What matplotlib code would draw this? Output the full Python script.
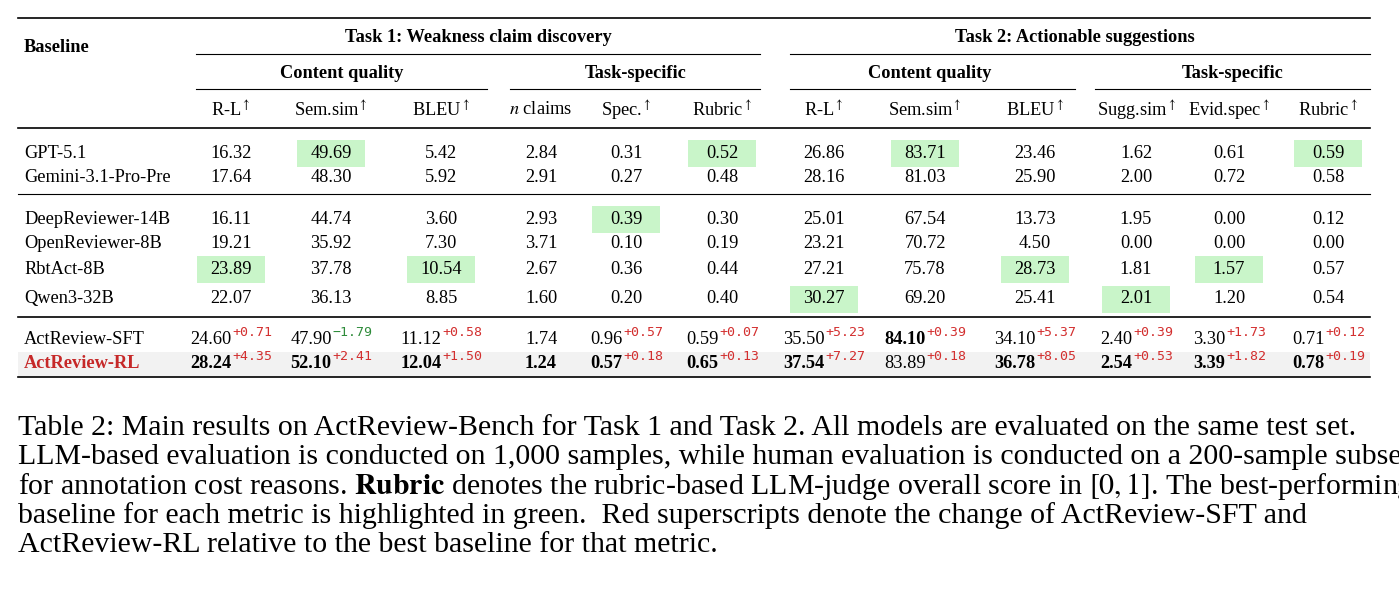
import matplotlib.pyplot as plt
from matplotlib.patches import Rectangle

plt.rcParams["mathtext.fontset"] = "stix"
W, H = 1399, 606
fig = plt.figure(figsize=(W / 100, H / 100), dpi=100)
SERIF = "Liberation Serif"
MONO = "DejaVu Sans Mono"

# data
models = ["GPT-5.1", "Gemini-3.1-Pro-Pre", "DeepReviewer-14B", "OpenReviewer-8B",
          "RbtAct-8B", "Qwen3-32B", "ActReview-SFT", "ActReview-RL"]
values = [
    ["16.32", "49.69", "5.42", "2.84", "0.31", "0.52", "26.86", "83.71", "23.46", "1.62", "0.61", "0.59"],
    ["17.64", "48.30", "5.92", "2.91", "0.27", "0.48", "28.16", "81.03", "25.90", "2.00", "0.72", "0.58"],
    ["16.11", "44.74", "3.60", "2.93", "0.39", "0.30", "25.01", "67.54", "13.73", "1.95", "0.00", "0.12"],
    ["19.21", "35.92", "7.30", "3.71", "0.10", "0.19", "23.21", "70.72", "4.50", "0.00", "0.00", "0.00"],
    ["23.89", "37.78", "10.54", "2.67", "0.36", "0.44", "27.21", "75.78", "28.73", "1.81", "1.57", "0.57"],
    ["22.07", "36.13", "8.85", "1.60", "0.20", "0.40", "30.27", "69.20", "25.41", "2.01", "1.20", "0.54"],
    ["24.60", "47.90", "11.12", "1.74", "0.96", "0.59", "35.50", "84.10", "34.10", "2.40", "3.30", "0.71"],
    ["28.24", "52.10", "12.04", "1.24", "0.57", "0.65", "37.54", "83.89", "36.78", "2.54", "3.39", "0.78"],
]
deltas = [
    ["+0.71", "\u22121.79", "+0.58", "", "+0.57", "+0.07", "+5.23", "+0.39", "+5.37", "+0.39", "+1.73", "+0.12"],
    ["+4.35", "+2.41", "+1.50", "", "+0.18", "+0.13", "+7.27", "+0.18", "+8.05", "+0.53", "+1.82", "+0.19"],
]
bold_sft = [7]
bold_rl = [0, 1, 2, 3, 4, 5, 6, 8, 9, 10, 11]
best = [(0, 1), (0, 5), (0, 7), (0, 11), (2, 4), (4, 0), (4, 2), (4, 8), (4, 10), (5, 6), (5, 9)]
col_labels = ["R-L", "Sem.sim", "BLEU", "$n$ claims", "Spec.", "Rubric",
              "R-L", "Sem.sim", "BLEU", "Sugg.sim", "Evid.spec", "Rubric"]
arrow = [True, True, True, False, True, True, True, True, True, True, True, True]

col_x = [231, 331, 441, 541, 626, 722, 824, 925, 1035, 1136, 1229, 1328]
row_y = [153, 177, 219, 243, 269, 299, 339, 364]
FS = 13.2


def fx(x):
    return x / W


def fy(y):
    return 1 - y / H


def txt(x, y, s, **kw):
    kw.setdefault("fontsize", FS)
    kw.setdefault("family", SERIF)
    return fig.text(fx(x), fy(y), s, va="center", **kw)


def hline(x0, x1, y, lw=0.8):
    fig.add_artist(plt.Line2D([fx(x0), fx(x1)], [fy(y), fy(y)], color="black", lw=lw))


def rect(x, y, w, h, color):
    fig.add_artist(Rectangle((fx(x), fy(y + h)), w / W, h / H, color=color, lw=0, zorder=0))


# background bands
rect(18, 352, 1352, 25, "#f2f2f2")
for r, c in best:
    rect(col_x[c] - 34, row_y[r] - 13, 68, 27, "#c9f5c9")

# rules
hline(18, 1370, 18, 1.2)
hline(18, 1370, 128, 1.2)
hline(18, 1370, 194, 0.8)
hline(18, 1370, 317, 1.2)
hline(18, 1370, 377, 1.2)
hline(196, 760, 54)
hline(790, 1370, 54)
hline(196, 487, 89)
hline(510, 760, 89)
hline(790, 1075, 89)
hline(1095, 1370, 89)

# headers
txt(24, 48, "Baseline", weight="bold")
txt(478, 38, "Task 1: Weakness claim discovery", weight="bold", ha="center")
txt(1075, 38, "Task 2: Actionable suggestions", weight="bold", ha="center")
for cx, s in [(342, "Content quality"), (636, "Task-specific"),
              (930, "Content quality"), (1233, "Task-specific")]:
    txt(cx, 73, s, weight="bold", ha="center")
for x, s, a in zip(col_x, col_labels, arrow):
    txt(x, 110, s + ("$^{\\uparrow}$" if a else ""), ha="center")

fig.canvas.draw()
rend = fig.canvas.get_renderer()

for i, name in enumerate(models):
    y = row_y[i]
    if i == 7:
        txt(24, y, name, weight="bold", color="#c62828")
    else:
        txt(24, y, name)
    for j, v in enumerate(values[i]):
        if i < 6:
            txt(col_x[j], y, v, ha="center")
            continue
        d = deltas[i - 6][j]
        bold = (j in bold_sft) if i == 6 else (j in bold_rl)
        t = txt(0, y, v, weight="bold" if bold else "normal")
        w1 = t.get_window_extent(rend).width
        if d:
            col = "#2e8b3a" if d.startswith("\u2212") else "#d32f2f"
            s = txt(0, y - 7, d, family=MONO, fontsize=9.5, color=col)
            w2 = s.get_window_extent(rend).width
        else:
            w2 = 0
        x0 = col_x[j] - (w1 + w2) / 2
        t.set_x(fx(x0))
        if d:
            s.set_x(fx(x0 + w1 + 1))

caption = [
    "Table 2: Main results on ActReview-Bench for Task 1 and Task 2. All models are evaluated on the same test set.",
    "LLM-based evaluation is conducted on 1,000 samples, while human evaluation is conducted on a 200-sample subset",
    "for annotation cost reasons. $\\mathbf{Rubric}$ denotes the rubric-based LLM-judge overall score in $[0, 1]$. The best-performing",
    "baseline for each metric is highlighted in green.  Red superscripts denote the change of ActReview-SFT and",
    "ActReview-RL relative to the best baseline for that metric.",
]
for k, line in enumerate(caption):
    txt(18, 428 + k * 29.3, line, fontsize=21.5)

fig.savefig("out.png", dpi=100)
